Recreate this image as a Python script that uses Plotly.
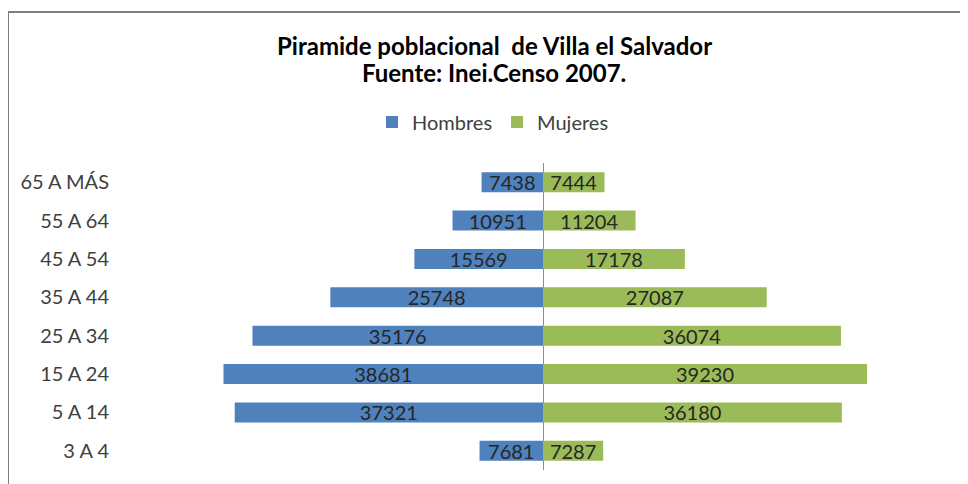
import plotly.graph_objects as go

categorias = ["3 A 4", "5 A 14", "15 A 24", "25 A 34", "35 A 44", "45 A 54", "55 A 64", "65 A MÁS"]
hombres = [7681, 37321, 38681, 35176, 25748, 15569, 10951, 7438]
mujeres = [7287, 36180, 39230, 36074, 27087, 17178, 11204, 7444]
titulo = ["Piramide poblacional  de Villa el Salvador", "Fuente: Inei.Censo 2007."]

azul = "#4F81BD"
verde = "#9BBB59"
FONT = "Lato"

W, H = 968, 484
L, R, T, B = 106, 40, 155, 22
pw = W - L - R
ph = H - T - B
center_px = 535
scale = 0.00826  # px per person
xmin = -(center_px - L) / scale
xmax = (W - R - center_px) / scale


def px_x(p):
    return (p - L) / pw


def px_y(p):
    return (H - B - p) / ph


fig = go.Figure()
fig.add_trace(go.Bar(
    y=categorias, x=[-v for v in hombres], name="Hombres", orientation="h",
    marker=dict(color=azul, line=dict(width=0)),
    text=[str(v) for v in hombres], textposition="inside", insidetextanchor="middle",
    textfont=dict(family=FONT, size=20, color="#262626"), hoverinfo="skip",
))
fig.add_trace(go.Bar(
    y=categorias, x=mujeres, name="Mujeres", orientation="h",
    marker=dict(color=verde, line=dict(width=0)),
    text=[str(v) for v in mujeres], textposition="inside", insidetextanchor="middle",
    textfont=dict(family=FONT, size=20, color="#262626"), hoverinfo="skip",
))

annotations = [
    dict(text="<b>%s</b>" % titulo[0], xref="paper", yref="paper", x=px_x(486), y=px_y(37),
         xanchor="center", yanchor="middle", showarrow=False,
         font=dict(family=FONT, size=24, color="#000000")),
    dict(text="<b>%s</b>" % titulo[1], xref="paper", yref="paper", x=px_x(486), y=px_y(64),
         xanchor="center", yanchor="middle", showarrow=False,
         font=dict(family=FONT, size=24, color="#000000")),
]

fig.update_layout(
    width=W, height=H, barmode="relative", bargap=0.48,
    margin=dict(l=L, r=R, t=T, b=B),
    paper_bgcolor="white", plot_bgcolor="white",
    uniformtext=dict(minsize=20, mode="show"),
    annotations=annotations,
    legend=dict(orientation="h", x=485 / W, xref="container", xanchor="center",
                y=1 - 114 / H, yref="container", yanchor="middle",
                font=dict(family=FONT, size=20, color="#404040"),
                itemwidth=30, traceorder="normal"),
    xaxis=dict(range=[xmin, xmax], showticklabels=False, showgrid=False,
               zeroline=True, zerolinecolor="#8c8c8c", zerolinewidth=1, fixedrange=True),
    yaxis=dict(showgrid=False, ticks="", ticklabelstandoff=4,
               tickfont=dict(family=FONT, size=20, color="#404040"), fixedrange=True),
    shapes=[dict(type="rect", xref="paper", yref="paper",
                 x0=px_x(0), x1=px_x(W + 20),
                 y0=px_y(H + 20), y1=px_y(4),
                 line=dict(color="#7f7f7f", width=2), fillcolor="rgba(0,0,0,0)", layer="above")],
)

fig.write_html("out.html")
